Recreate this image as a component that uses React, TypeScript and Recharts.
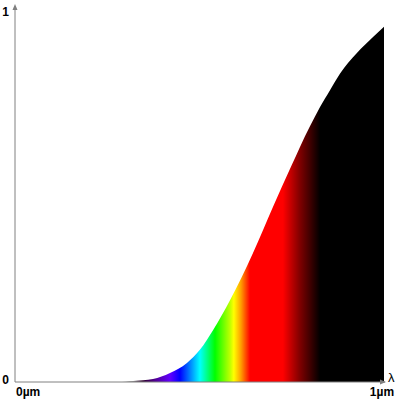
import React from 'react';
import { AreaChart, Area, XAxis, YAxis, Label } from 'recharts';

const wavelengths = [0, 0.28, 0.32, 0.374, 0.42, 0.466, 0.501, 0.537, 0.583, 0.645, 0.699, 0.75, 0.772, 0.799, 0.827, 0.854, 0.881, 0.926, 0.971, 1.0];
const intensities = [0, 0, 0.003, 0.008, 0.024, 0.051, 0.086, 0.139, 0.219, 0.345, 0.468, 0.58, 0.628, 0.683, 0.736, 0.781, 0.825, 0.879, 0.923, 0.95];

const xTicks = [0, 1];
const xTickLabels = ['0µm', '1µm'];
const yTicks = [0, 1];
const yTickLabels = ['0', '1'];
const xAxisName = 'λ';

const spectrumOffsets = [0, 0.32, 0.347, 0.379, 0.42, 0.447, 0.474, 0.501, 0.542, 0.583, 0.593, 0.612, 0.637, 0.726, 0.772, 0.827, 1];
const spectrumColors = ['#909090', '#909090', '#300030', '#500090', '#6000ff', '#0000ff', '#0080ff', '#00ffff', '#00ff00', '#c0ff00', '#ffff00', '#ffa000', '#ff0000', '#ff0000', '#800000', '#000000', '#000000'];

const data = wavelengths.map((l, i) => ({ l, v: intensities[i] }));

const FONT = '"Liberation Sans", Arial, sans-serif';
const AXIS_COLOR = '#808080';

const XTick = (props: any) => {
  const { x, y, payload } = props;
  const idx = xTicks.indexOf(payload.value);
  const isFirst = idx === 0;
  return (
    <text
      x={isFirst ? x + 1 : x - 2}
      y={y + 14}
      textAnchor={isFirst ? 'start' : 'middle'}
      fontFamily={FONT}
      fontSize={12}
      fontWeight="bold"
      fill="#000"
    >
      {xTickLabels[idx]}
    </text>
  );
};

const YTick = (props: any) => {
  const { x, y, payload } = props;
  const idx = yTicks.indexOf(payload.value);
  const isTop = payload.value === 1;
  return (
    <text
      x={x - 6}
      y={isTop ? y + 8 : y + 2}
      textAnchor="end"
      fontFamily={FONT}
      fontSize={12}
      fontWeight="bold"
      fill="#000"
    >
      {yTickLabels[idx]}
    </text>
  );
};

const XArrow = (props: any) => {
  const vb = props.viewBox || {};
  const ex = vb.x + vb.width;
  const ey = vb.y;
  return (
    <g>
      <line x1={ex} y1={ey} x2={ex + 1} y2={ey} stroke={AXIS_COLOR} />
      <polygon points={`${ex + 2},${ey} ${ex - 4},${ey - 2.5} ${ex - 4},${ey + 2.5}`} fill={AXIS_COLOR} />
      <text x={ex + 4} y={ey} fontFamily={FONT} fontSize={13} fill="#000">
        {xAxisName}
      </text>
    </g>
  );
};

const YArrow = (props: any) => {
  const vb = props.viewBox || {};
  const ax = vb.x + vb.width;
  const ay = vb.y;
  return (
    <g>
      <line x1={ax} y1={ay} x2={ax} y2={ay - 2} stroke={AXIS_COLOR} />
      <polygon points={`${ax},${ay - 4} ${ax - 2.5},${ay + 2} ${ax + 2.5},${ay + 2}`} fill={AXIS_COLOR} />
    </g>
  );
};

export default function App() {
  return (
    <div style={{ position: 'absolute', left: 0, top: 0, width: 400, height: 400, background: '#fff' }}>
      <AreaChart width={400} height={400} data={data} margin={{ top: 8, right: 16, bottom: 0, left: 0 }}>
        <defs>
          <linearGradient id="spectrum" x1="0" y1="0" x2="1" y2="0">
            {spectrumOffsets.map((o, i) => (
              <stop key={i} offset={o} stopColor={spectrumColors[i]} />
            ))}
          </linearGradient>
        </defs>
        <XAxis
          dataKey="l"
          type="number"
          domain={[0, 1]}
          ticks={xTicks}
          tickLine={false}
          tickSize={0}
          tickMargin={0}
          height={18}
          axisLine={{ stroke: AXIS_COLOR }}
          tick={<XTick />}
          interval={0}
        >
          <Label content={<XArrow />} position="insideTopRight" />
        </XAxis>
        <YAxis
          type="number"
          domain={[0, 1]}
          ticks={yTicks}
          tickLine={false}
          tickSize={0}
          tickMargin={0}
          width={15}
          axisLine={{ stroke: AXIS_COLOR }}
          tick={<YTick />}
          interval={0}
        >
          <Label content={<YArrow />} position="insideTop" />
        </YAxis>
        <Area
          type="monotone"
          dataKey="v"
          stroke="none"
          fill="url(#spectrum)"
          fillOpacity={1}
          isAnimationActive={false}
          dot={false}
          activeDot={false}
        />
      </AreaChart>
    </div>
  );
}
